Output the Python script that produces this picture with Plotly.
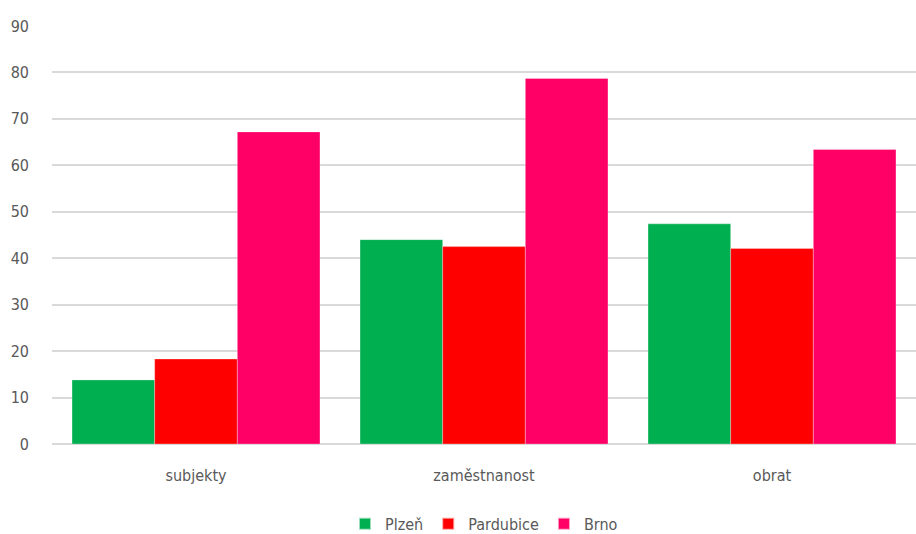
import plotly.graph_objects as go

kategorie = ['subjekty', 'zaměstnanost', 'obrat']
plzen = [13.8, 44.0, 47.4]
pardubice = [18.3, 42.5, 42.1]
brno = [67.2, 78.7, 63.4]

serie = [('Plzeň', plzen, '#00B050'), ('Pardubice', pardubice, '#FF0000'), ('Brno', brno, '#FF0066')]

font_rodina = 'DejaVu Sans Condensed, Liberation Sans Narrow, sans-serif'

fig = go.Figure()
for nazev, hodnoty, barva in serie:
    fig.add_trace(go.Bar(
        x=kategorie, y=hodnoty, name=nazev,
        marker=dict(color=barva, line=dict(color='rgba(255,255,255,0.6)', width=0.5)),
    ))

fig.update_layout(
    width=916, height=534,
    barmode='group', bargap=0.139, bargroupgap=0,
    paper_bgcolor='white', plot_bgcolor='white',
    font=dict(family=font_rodina, size=16, color='#595959'),
    margin=dict(l=52, r=0, t=26, b=90, autoexpand=False),
    showlegend=True,
    legend=dict(orientation='h', x=0.5, xanchor='center', y=-0.191, yanchor='middle',
                font=dict(size=16, color='#595959'), itemsizing='constant'),
)
fig.update_xaxes(showgrid=False, showline=False, ticks='', ticklabelstandoff=20, automargin=False)
fig.update_yaxes(range=[0, 90], dtick=10, showgrid=True, gridcolor='#d9d9d9', gridwidth=1.5,
                 zeroline=True, zerolinecolor='#d9d9d9', zerolinewidth=1.5,
                 ticks='', ticklabelstandoff=22, automargin=False)

# bez okraje stránky, aby graf seděl přesně v okně
fig.write_html('out.html', config={'displayModeBar': False},
               post_script="document.body.style.margin='0';")
